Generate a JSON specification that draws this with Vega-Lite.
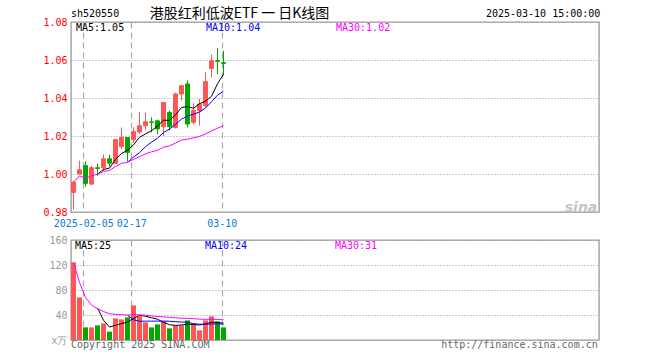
{
  "$schema": "https://vega.github.io/schema/vega-lite/v6.json",
  "padding": {"left": 42, "top": 6, "right": 0, "bottom": 0},
  "background": "white",
  "spacing": 5,
  "config": {
    "view": {"stroke": "#a0a0a0", "strokeWidth": 1.4},
    "font": "DejaVu Sans Mono",
    "scale": {"continuousPadding": 0},
    "axis": {"labelFont": "DejaVu Sans Mono", "labelFontSize": 10, "domain": false, "ticks": false, "tickSize": 0, "title": null, "labelOverlap": false}
  },
  "datasets": {
    "candles": [
      {"i": 1, "date": "2025-01-24", "open": 0.9903, "high": 0.9962, "low": 0.9812, "close": 0.9957, "vol": 124.2, "dir": "up"},
      {"i": 2, "date": "2025-01-27", "open": 1.0000, "high": 1.0070, "low": 0.9998, "close": 1.0022, "vol": 68.2, "dir": "up"},
      {"i": 3, "date": "2025-02-05", "open": 1.0044, "high": 1.0068, "low": 0.9933, "close": 0.9951, "vol": 20.2, "dir": "down"},
      {"i": 4, "date": "2025-02-06", "open": 0.9947, "high": 1.0045, "low": 0.9942, "close": 1.0033, "vol": 20.2, "dir": "up"},
      {"i": 5, "date": "2025-02-07", "open": 1.0033, "high": 1.0055, "low": 0.9990, "close": 1.0029, "vol": 23.4, "dir": "down"},
      {"i": 6, "date": "2025-02-10", "open": 1.0033, "high": 1.0103, "low": 1.0015, "close": 1.0080, "vol": 26.6, "dir": "up"},
      {"i": 7, "date": "2025-02-11", "open": 1.0080, "high": 1.0102, "low": 1.0040, "close": 1.0057, "vol": 13.3, "dir": "down"},
      {"i": 8, "date": "2025-02-12", "open": 1.0056, "high": 1.0181, "low": 1.0053, "close": 1.0181, "vol": 34.6, "dir": "up"},
      {"i": 9, "date": "2025-02-13", "open": 1.0144, "high": 1.0245, "low": 1.0131, "close": 1.0192, "vol": 33.0, "dir": "up"},
      {"i": 10, "date": "2025-02-14", "open": 1.0192, "high": 1.0192, "low": 1.0065, "close": 1.0114, "vol": 36.2, "dir": "down"},
      {"i": 11, "date": "2025-02-17", "open": 1.0181, "high": 1.0246, "low": 1.0163, "close": 1.0223, "vol": 55.4, "dir": "up"},
      {"i": 12, "date": "2025-02-18", "open": 1.0221, "high": 1.0325, "low": 1.0210, "close": 1.0254, "vol": 37.8, "dir": "up"},
      {"i": 13, "date": "2025-02-19", "open": 1.0254, "high": 1.0323, "low": 1.0232, "close": 1.0275, "vol": 28.2, "dir": "up"},
      {"i": 14, "date": "2025-02-20", "open": 1.0274, "high": 1.0298, "low": 1.0219, "close": 1.0272, "vol": 20.2, "dir": "down"},
      {"i": 15, "date": "2025-02-21", "open": 1.0280, "high": 1.0286, "low": 1.0209, "close": 1.0237, "vol": 25.0, "dir": "down"},
      {"i": 16, "date": "2025-02-24", "open": 1.0249, "high": 1.0377, "low": 1.0200, "close": 1.0377, "vol": 29.8, "dir": "up"},
      {"i": 17, "date": "2025-02-25", "open": 1.0324, "high": 1.0333, "low": 1.0228, "close": 1.0249, "vol": 18.6, "dir": "down"},
      {"i": 18, "date": "2025-02-26", "open": 1.0245, "high": 1.0428, "low": 1.0240, "close": 1.0421, "vol": 23.4, "dir": "up"},
      {"i": 19, "date": "2025-02-27", "open": 1.0421, "high": 1.0465, "low": 1.0386, "close": 1.0465, "vol": 23.4, "dir": "up"},
      {"i": 20, "date": "2025-02-28", "open": 1.0474, "high": 1.0493, "low": 1.0245, "close": 1.0263, "vol": 31.4, "dir": "down"},
      {"i": 21, "date": "2025-03-03", "open": 1.0272, "high": 1.0372, "low": 1.0260, "close": 1.0335, "vol": 26.6, "dir": "up"},
      {"i": 22, "date": "2025-03-04", "open": 1.0333, "high": 1.0395, "low": 1.0255, "close": 1.0368, "vol": 15.5, "dir": "up"},
      {"i": 23, "date": "2025-03-05", "open": 1.0360, "high": 1.0538, "low": 1.0350, "close": 1.0486, "vol": 31.4, "dir": "up"},
      {"i": 24, "date": "2025-03-06", "open": 1.0556, "high": 1.0628, "low": 1.0508, "close": 1.0596, "vol": 37.8, "dir": "up"},
      {"i": 25, "date": "2025-03-07", "open": 1.0596, "high": 1.0663, "low": 1.0526, "close": 1.0593, "vol": 29.8, "dir": "down"},
      {"i": 26, "date": "2025-03-10", "open": 1.0586, "high": 1.0649, "low": 1.0521, "close": 1.0582, "vol": 20.2, "dir": "down"}
    ],
    "pma": [
      {"i": 5, "series": "MA5", "value": 0.9999}, {"i": 6, "series": "MA5", "value": 1.0024}, {"i": 7, "series": "MA5", "value": 1.0031},
      {"i": 8, "series": "MA5", "value": 1.0077}, {"i": 9, "series": "MA5", "value": 1.0108}, {"i": 10, "series": "MA5", "value": 1.0125},
      {"i": 11, "series": "MA5", "value": 1.0153}, {"i": 12, "series": "MA5", "value": 1.0193}, {"i": 13, "series": "MA5", "value": 1.0211},
      {"i": 14, "series": "MA5", "value": 1.0228}, {"i": 15, "series": "MA5", "value": 1.0252}, {"i": 16, "series": "MA5", "value": 1.0283},
      {"i": 17, "series": "MA5", "value": 1.0282}, {"i": 18, "series": "MA5", "value": 1.0311}, {"i": 19, "series": "MA5", "value": 1.0350},
      {"i": 20, "series": "MA5", "value": 1.0355}, {"i": 21, "series": "MA5", "value": 1.0346}, {"i": 22, "series": "MA5", "value": 1.0370},
      {"i": 23, "series": "MA5", "value": 1.0383}, {"i": 24, "series": "MA5", "value": 1.0409}, {"i": 25, "series": "MA5", "value": 1.0475},
      {"i": 26, "series": "MA5", "value": 1.0525},
      {"i": 10, "series": "MA10", "value": 1.0062}, {"i": 11, "series": "MA10", "value": 1.0089}, {"i": 12, "series": "MA10", "value": 1.0112},
      {"i": 13, "series": "MA10", "value": 1.0144}, {"i": 14, "series": "MA10", "value": 1.0168}, {"i": 15, "series": "MA10", "value": 1.0188},
      {"i": 16, "series": "MA10", "value": 1.0218}, {"i": 17, "series": "MA10", "value": 1.0237}, {"i": 18, "series": "MA10", "value": 1.0261},
      {"i": 19, "series": "MA10", "value": 1.0289}, {"i": 20, "series": "MA10", "value": 1.0304}, {"i": 21, "series": "MA10", "value": 1.0315},
      {"i": 22, "series": "MA10", "value": 1.0326}, {"i": 23, "series": "MA10", "value": 1.0347}, {"i": 24, "series": "MA10", "value": 1.0380},
      {"i": 25, "series": "MA10", "value": 1.0415}, {"i": 26, "series": "MA10", "value": 1.0436},
      {"i": 1, "series": "MA30", "value": 0.9957}, {"i": 2, "series": "MA30", "value": 0.9990}, {"i": 3, "series": "MA30", "value": 0.9977},
      {"i": 4, "series": "MA30", "value": 0.9991}, {"i": 5, "series": "MA30", "value": 0.9999}, {"i": 6, "series": "MA30", "value": 1.0013},
      {"i": 7, "series": "MA30", "value": 1.0019}, {"i": 8, "series": "MA30", "value": 1.0039}, {"i": 9, "series": "MA30", "value": 1.0056},
      {"i": 10, "series": "MA30", "value": 1.0062}, {"i": 11, "series": "MA30", "value": 1.0077}, {"i": 12, "series": "MA30", "value": 1.0091},
      {"i": 13, "series": "MA30", "value": 1.0106}, {"i": 14, "series": "MA30", "value": 1.0117}, {"i": 15, "series": "MA30", "value": 1.0125},
      {"i": 16, "series": "MA30", "value": 1.0141}, {"i": 17, "series": "MA30", "value": 1.0148}, {"i": 18, "series": "MA30", "value": 1.0163},
      {"i": 19, "series": "MA30", "value": 1.0179}, {"i": 20, "series": "MA30", "value": 1.0183}, {"i": 21, "series": "MA30", "value": 1.0190},
      {"i": 22, "series": "MA30", "value": 1.0198}, {"i": 23, "series": "MA30", "value": 1.0211}, {"i": 24, "series": "MA30", "value": 1.0227},
      {"i": 25, "series": "MA30", "value": 1.0241}, {"i": 26, "series": "MA30", "value": 1.0254}
    ],
    "vma": [
      {"i": 5, "series": "MA5", "value": 51.2}, {"i": 6, "series": "MA5", "value": 31.7}, {"i": 7, "series": "MA5", "value": 20.7},
      {"i": 8, "series": "MA5", "value": 23.6}, {"i": 9, "series": "MA5", "value": 26.2}, {"i": 10, "series": "MA5", "value": 28.7},
      {"i": 11, "series": "MA5", "value": 34.5}, {"i": 12, "series": "MA5", "value": 39.4}, {"i": 13, "series": "MA5", "value": 38.1},
      {"i": 14, "series": "MA5", "value": 35.6}, {"i": 15, "series": "MA5", "value": 33.3}, {"i": 16, "series": "MA5", "value": 28.2},
      {"i": 17, "series": "MA5", "value": 24.4}, {"i": 18, "series": "MA5", "value": 23.4}, {"i": 19, "series": "MA5", "value": 24.0},
      {"i": 20, "series": "MA5", "value": 25.3}, {"i": 21, "series": "MA5", "value": 24.7}, {"i": 22, "series": "MA5", "value": 24.1},
      {"i": 23, "series": "MA5", "value": 25.7}, {"i": 24, "series": "MA5", "value": 28.5}, {"i": 25, "series": "MA5", "value": 28.2},
      {"i": 26, "series": "MA5", "value": 26.9},
      {"i": 10, "series": "MA10", "value": 39.5}, {"i": 11, "series": "MA10", "value": 32.5}, {"i": 12, "series": "MA10", "value": 30.0},
      {"i": 13, "series": "MA10", "value": 30.2}, {"i": 14, "series": "MA10", "value": 30.2}, {"i": 15, "series": "MA10", "value": 30.2},
      {"i": 16, "series": "MA10", "value": 30.3}, {"i": 17, "series": "MA10", "value": 30.0}, {"i": 18, "series": "MA10", "value": 29.2},
      {"i": 19, "series": "MA10", "value": 28.8}, {"i": 20, "series": "MA10", "value": 28.5}, {"i": 21, "series": "MA10", "value": 26.2},
      {"i": 22, "series": "MA10", "value": 25.2}, {"i": 23, "series": "MA10", "value": 25.3}, {"i": 24, "series": "MA10", "value": 25.6},
      {"i": 25, "series": "MA10", "value": 25.8}, {"i": 26, "series": "MA10", "value": 25.5},
      {"i": 1, "series": "MA30", "value": 124.0}, {"i": 2, "series": "MA30", "value": 92.0}, {"i": 3, "series": "MA30", "value": 68.0},
      {"i": 4, "series": "MA30", "value": 56.0}, {"i": 5, "series": "MA30", "value": 50.0}, {"i": 6, "series": "MA30", "value": 45.5},
      {"i": 7, "series": "MA30", "value": 42.0}, {"i": 8, "series": "MA30", "value": 41.0}, {"i": 9, "series": "MA30", "value": 40.5},
      {"i": 10, "series": "MA30", "value": 40.0}, {"i": 11, "series": "MA30", "value": 40.5}, {"i": 12, "series": "MA30", "value": 40.3},
      {"i": 13, "series": "MA30", "value": 39.7}, {"i": 14, "series": "MA30", "value": 38.5}, {"i": 15, "series": "MA30", "value": 37.5},
      {"i": 16, "series": "MA30", "value": 37.0}, {"i": 17, "series": "MA30", "value": 36.2}, {"i": 18, "series": "MA30", "value": 35.5},
      {"i": 19, "series": "MA30", "value": 34.9}, {"i": 20, "series": "MA30", "value": 34.6}, {"i": 21, "series": "MA30", "value": 34.2},
      {"i": 22, "series": "MA30", "value": 33.4}, {"i": 23, "series": "MA30", "value": 33.1}, {"i": 24, "series": "MA30", "value": 33.1},
      {"i": 25, "series": "MA30", "value": 32.8}, {"i": 26, "series": "MA30", "value": 32.4}
    ]
  },
  "resolve": {
    "scale": {"x": "independent", "y": "independent", "stroke": "independent", "fill": "independent"},
    "axis": {"x": "independent", "y": "independent"},
    "legend": {"stroke": "independent", "fill": "independent"}
  },
  "vconcat": [
    {
      "width": 528,
      "height": 190,
      "layer": [
        {
          "data": {"name": "candles"},
          "mark": {"type": "rule", "strokeWidth": 1},
          "encoding": {
            "x": {"field": "i", "type": "quantitative", "scale": {"domain": [0.583, 88.583], "nice": false, "zero": false, "padding": 0},
              "axis": {"values": [2.63, 10.63, 25.72], "labelExpr": "datum.value < 5 ? '2025-02-05' : (datum.value < 20 ? '02-17' : '03-10')", "labelColor": "#0a7fd2", "labelPadding": 6, "labelOverlap": false, "labelFlush": false, "labelBound": false, "grid": true, "gridColor": "#aaaaaa", "gridDash": [6, 4], "gridWidth": 1.2, "title": null}},
            "y": {"field": "low", "type": "quantitative", "scale": {"domain": [0.98, 1.08], "nice": false, "zero": false, "padding": 0},
              "axis": {"values": [0.98, 1.0, 1.02, 1.04, 1.06, 1.08], "format": ".2f", "labelColor": "#ff0000", "labelPadding": 4, "labelOverlap": false, "labelFlush": false, "labelBound": false, "grid": true, "gridColor": "#999999", "gridDash": [1, 2], "title": null}},
            "y2": {"field": "high"},
            "stroke": {"field": "dir", "type": "nominal", "scale": {"domain": ["up", "down", "MA5", "MA10", "MA30"], "range": ["#ff5555", "#00a800", "#000000", "#0000ff", "#ff00ff"]}}
          }
        },
        {
          "data": {"name": "candles"},
          "mark": {"type": "bar", "size": 4, "strokeWidth": 1},
          "encoding": {
            "x": {"field": "i", "type": "quantitative", "scale": {"domain": [0.583, 88.583], "nice": false, "zero": false, "padding": 0},
              "axis": {"values": [2.63, 10.63, 25.72], "labelExpr": "datum.value < 5 ? '2025-02-05' : (datum.value < 20 ? '02-17' : '03-10')", "labelColor": "#0a7fd2", "labelPadding": 6, "labelOverlap": false, "labelFlush": false, "labelBound": false, "grid": true, "gridColor": "#aaaaaa", "gridDash": [6, 4], "gridWidth": 1.2, "title": null}},
            "y": {"field": "open", "type": "quantitative", "scale": {"domain": [0.98, 1.08], "nice": false, "zero": false, "padding": 0},
              "axis": {"values": [0.98, 1.0, 1.02, 1.04, 1.06, 1.08], "format": ".2f", "labelColor": "#ff0000", "labelPadding": 4, "labelOverlap": false, "labelFlush": false, "labelBound": false, "grid": true, "gridColor": "#999999", "gridDash": [1, 2], "title": null}},
            "y2": {"field": "close"},
            "fill": {"field": "dir", "type": "nominal", "scale": {"domain": ["up", "down"], "range": ["#ff5555", "#00a800"]}, "legend": null},
            "stroke": {"field": "dir", "type": "nominal", "scale": {"domain": ["up", "down", "MA5", "MA10", "MA30"], "range": ["#ff5555", "#00a800", "#000000", "#0000ff", "#ff00ff"]}}
          }
        },
        {
          "data": {"name": "pma"},
          "mark": {"type": "line", "strokeWidth": 1},
          "encoding": {
            "x": {"field": "i", "type": "quantitative", "scale": {"domain": [0.583, 88.583], "nice": false, "zero": false, "padding": 0},
              "axis": {"values": [2.63, 10.63, 25.72], "labelExpr": "datum.value < 5 ? '2025-02-05' : (datum.value < 20 ? '02-17' : '03-10')", "labelColor": "#0a7fd2", "labelPadding": 6, "labelOverlap": false, "labelFlush": false, "labelBound": false, "grid": true, "gridColor": "#aaaaaa", "gridDash": [6, 4], "gridWidth": 1.2, "title": null}},
            "y": {"field": "value", "type": "quantitative", "scale": {"domain": [0.98, 1.08], "nice": false, "zero": false, "padding": 0},
              "axis": {"values": [0.98, 1.0, 1.02, 1.04, 1.06, 1.08], "format": ".2f", "labelColor": "#ff0000", "labelPadding": 4, "labelOverlap": false, "labelFlush": false, "labelBound": false, "grid": true, "gridColor": "#999999", "gridDash": [1, 2], "title": null}},
            "stroke": {"field": "series", "type": "nominal", "scale": {"domain": ["up", "down", "MA5", "MA10", "MA30"], "range": ["#ff5555", "#00a800", "#000000", "#0000ff", "#ff00ff"]},
              "legend": {"orient": "none", "legendX": -5, "legendY": 1, "direction": "horizontal", "title": null,
                "values": ["MA5", "MA10", "MA30"],
                "labelExpr": "datum.value == 'MA5' ? 'MA5:1.05' : (datum.value == 'MA10' ? 'MA10:1.04' : 'MA30:1.02')",
                "labelColor": {"expr": "datum.value == 'MA5' ? '#000000' : (datum.value == 'MA10' ? '#0000ff' : '#ff00ff')"},
                "labelFont": "DejaVu Sans Mono", "labelFontSize": 10, "symbolSize": 0, "symbolOpacity": 0, "symbolStrokeWidth": 0,
                "labelOffset": 0, "gridAlign": "all", "columnPadding": 65, "padding": 0}}
          }
        },
        {
          "data": {"values": [{}]},
          "mark": {"type": "text", "align": "left", "baseline": "middle", "font": "DejaVu Sans Mono", "fontSize": 10, "color": "#000000"},
          "encoding": {
            "x": {"datum": 0.583, "type": "quantitative", "scale": {"domain": [0.583, 88.583], "nice": false, "zero": false, "padding": 0},
              "axis": {"values": [2.63, 10.63, 25.72], "labelExpr": "datum.value < 5 ? '2025-02-05' : (datum.value < 20 ? '02-17' : '03-10')", "labelColor": "#0a7fd2", "labelPadding": 6, "labelOverlap": false, "labelFlush": false, "labelBound": false, "grid": true, "gridColor": "#aaaaaa", "gridDash": [6, 4], "gridWidth": 1.2, "title": null}},
            "y": {"datum": 1.0843, "type": "quantitative", "scale": {"domain": [0.98, 1.08], "nice": false, "zero": false, "padding": 0},
              "axis": {"values": [0.98, 1.0, 1.02, 1.04, 1.06, 1.08], "format": ".2f", "labelColor": "#ff0000", "labelPadding": 4, "labelOverlap": false, "labelFlush": false, "labelBound": false, "grid": true, "gridColor": "#999999", "gridDash": [1, 2], "title": null}},
            "text": {"value": "sh520550"}}
        },
        {
          "data": {"values": [{}]},
          "mark": {"type": "text", "align": "center", "baseline": "middle", "font": "Noto Sans CJK SC", "fontSize": 14, "color": "#000000"},
          "encoding": {
            "x": {"datum": 28.67, "type": "quantitative", "scale": {"domain": [0.583, 88.583], "nice": false, "zero": false, "padding": 0},
              "axis": {"values": [2.63, 10.63, 25.72], "labelExpr": "datum.value < 5 ? '2025-02-05' : (datum.value < 20 ? '02-17' : '03-10')", "labelColor": "#0a7fd2", "labelPadding": 6, "labelOverlap": false, "labelFlush": false, "labelBound": false, "grid": true, "gridColor": "#aaaaaa", "gridDash": [6, 4], "gridWidth": 1.2, "title": null}},
            "y": {"datum": 1.0843, "type": "quantitative", "scale": {"domain": [0.98, 1.08], "nice": false, "zero": false, "padding": 0},
              "axis": {"values": [0.98, 1.0, 1.02, 1.04, 1.06, 1.08], "format": ".2f", "labelColor": "#ff0000", "labelPadding": 4, "labelOverlap": false, "labelFlush": false, "labelBound": false, "grid": true, "gridColor": "#999999", "gridDash": [1, 2], "title": null}},
            "text": {"value": "港股红利低波ETF 一 日K线图"}}
        },
        {
          "data": {"values": [{}]},
          "mark": {"type": "text", "align": "right", "baseline": "middle", "font": "DejaVu Sans Mono", "fontSize": 10, "color": "#000000"},
          "encoding": {
            "x": {"datum": 88.8, "type": "quantitative", "scale": {"domain": [0.583, 88.583], "nice": false, "zero": false, "padding": 0},
              "axis": {"values": [2.63, 10.63, 25.72], "labelExpr": "datum.value < 5 ? '2025-02-05' : (datum.value < 20 ? '02-17' : '03-10')", "labelColor": "#0a7fd2", "labelPadding": 6, "labelOverlap": false, "labelFlush": false, "labelBound": false, "grid": true, "gridColor": "#aaaaaa", "gridDash": [6, 4], "gridWidth": 1.2, "title": null}},
            "y": {"datum": 1.0843, "type": "quantitative", "scale": {"domain": [0.98, 1.08], "nice": false, "zero": false, "padding": 0},
              "axis": {"values": [0.98, 1.0, 1.02, 1.04, 1.06, 1.08], "format": ".2f", "labelColor": "#ff0000", "labelPadding": 4, "labelOverlap": false, "labelFlush": false, "labelBound": false, "grid": true, "gridColor": "#999999", "gridDash": [1, 2], "title": null}},
            "text": {"value": "2025-03-10 15:00:00"}}
        },
        {
          "data": {"values": [{}]},
          "mark": {"type": "text", "align": "right", "baseline": "middle", "font": "DejaVu Sans", "fontSize": 14, "fontStyle": "italic", "fontWeight": "bold", "color": "#c4c4c4"},
          "encoding": {
            "x": {"datum": 88.3, "type": "quantitative", "scale": {"domain": [0.583, 88.583], "nice": false, "zero": false, "padding": 0},
              "axis": {"values": [2.63, 10.63, 25.72], "labelExpr": "datum.value < 5 ? '2025-02-05' : (datum.value < 20 ? '02-17' : '03-10')", "labelColor": "#0a7fd2", "labelPadding": 6, "labelOverlap": false, "labelFlush": false, "labelBound": false, "grid": true, "gridColor": "#aaaaaa", "gridDash": [6, 4], "gridWidth": 1.2, "title": null}},
            "y": {"datum": 0.9823, "type": "quantitative", "scale": {"domain": [0.98, 1.08], "nice": false, "zero": false, "padding": 0},
              "axis": {"values": [0.98, 1.0, 1.02, 1.04, 1.06, 1.08], "format": ".2f", "labelColor": "#ff0000", "labelPadding": 4, "labelOverlap": false, "labelFlush": false, "labelBound": false, "grid": true, "gridColor": "#999999", "gridDash": [1, 2], "title": null}},
            "text": {"value": "sina"}}
        }
      ]
    },
    {
      "width": 528,
      "height": 100,
      "layer": [
        {
          "data": {"name": "candles"},
          "mark": {"type": "bar", "size": 5},
          "encoding": {
            "x": {"field": "i", "type": "quantitative", "scale": {"domain": [0.583, 88.583], "nice": false, "zero": false, "padding": 0},
              "axis": {"values": [2.63, 10.63, 25.72], "labels": false, "grid": true, "gridColor": "#aaaaaa", "gridDash": [6, 4], "gridWidth": 1.2, "title": null}},
            "y": {"field": "vol", "type": "quantitative", "scale": {"domain": [0, 160], "nice": false, "zero": false, "padding": 0},
              "axis": {"values": [0, 40, 80, 120, 160], "labelExpr": "datum.value == 0 ? 'x万' : datum.label", "labelColor": "#999999", "labelPadding": 4, "labelOverlap": false, "labelFlush": false, "labelBound": false, "grid": true, "gridColor": "#999999", "gridDash": [1, 2], "title": null}},
            "fill": {"field": "dir", "type": "nominal", "scale": {"domain": ["up", "down"], "range": ["#ff5555", "#00a800"]}, "legend": null}
          }
        },
        {
          "data": {"name": "vma"},
          "mark": {"type": "line", "strokeWidth": 1},
          "encoding": {
            "x": {"field": "i", "type": "quantitative", "scale": {"domain": [0.583, 88.583], "nice": false, "zero": false, "padding": 0},
              "axis": {"values": [2.63, 10.63, 25.72], "labels": false, "grid": true, "gridColor": "#aaaaaa", "gridDash": [6, 4], "gridWidth": 1.2, "title": null}},
            "y": {"field": "value", "type": "quantitative", "scale": {"domain": [0, 160], "nice": false, "zero": false, "padding": 0},
              "axis": {"values": [0, 40, 80, 120, 160], "labelExpr": "datum.value == 0 ? 'x万' : datum.label", "labelColor": "#999999", "labelPadding": 4, "labelOverlap": false, "labelFlush": false, "labelBound": false, "grid": true, "gridColor": "#999999", "gridDash": [1, 2], "title": null}},
            "stroke": {"field": "series", "type": "nominal", "scale": {"domain": ["MA5", "MA10", "MA30"], "range": ["#000000", "#0000ff", "#ff00ff"]},
              "legend": {"orient": "none", "legendX": -6, "legendY": 1, "direction": "horizontal", "title": null,
                "labelExpr": "datum.value == 'MA5' ? 'MA5:25' : (datum.value == 'MA10' ? 'MA10:24' : 'MA30:31')",
                "labelColor": {"expr": "datum.value == 'MA5' ? '#000000' : (datum.value == 'MA10' ? '#0000ff' : '#ff00ff')"},
                "labelFont": "DejaVu Sans Mono", "labelFontSize": 10, "symbolSize": 0, "symbolOpacity": 0, "symbolStrokeWidth": 0,
                "labelOffset": 0, "gridAlign": "all", "columnPadding": 77, "padding": 0}}
          }
        },
        {
          "data": {"values": [{}]},
          "mark": {"type": "text", "align": "left", "baseline": "middle", "font": "DejaVu Sans Mono", "fontSize": 10, "color": "#666666"},
          "encoding": {
            "x": {"datum": 0.583, "type": "quantitative", "scale": {"domain": [0.583, 88.583], "nice": false, "zero": false, "padding": 0},
              "axis": {"values": [2.63, 10.63, 25.72], "labels": false, "grid": true, "gridColor": "#aaaaaa", "gridDash": [6, 4], "gridWidth": 1.2, "title": null}},
            "y": {"datum": -8.5, "type": "quantitative", "scale": {"domain": [0, 160], "nice": false, "zero": false, "padding": 0},
              "axis": {"values": [0, 40, 80, 120, 160], "labelExpr": "datum.value == 0 ? 'x万' : datum.label", "labelColor": "#999999", "labelPadding": 4, "labelOverlap": false, "labelFlush": false, "labelBound": false, "grid": true, "gridColor": "#999999", "gridDash": [1, 2], "title": null}},
            "text": {"value": "Copyright 2025 SINA.COM"}}
        },
        {
          "data": {"values": [{}]},
          "mark": {"type": "text", "align": "right", "baseline": "middle", "font": "DejaVu Sans Mono", "fontSize": 10, "color": "#666666"},
          "encoding": {
            "x": {"datum": 88.37, "type": "quantitative", "scale": {"domain": [0.583, 88.583], "nice": false, "zero": false, "padding": 0},
              "axis": {"values": [2.63, 10.63, 25.72], "labels": false, "grid": true, "gridColor": "#aaaaaa", "gridDash": [6, 4], "gridWidth": 1.2, "title": null}},
            "y": {"datum": -8.5, "type": "quantitative", "scale": {"domain": [0, 160], "nice": false, "zero": false, "padding": 0},
              "axis": {"values": [0, 40, 80, 120, 160], "labelExpr": "datum.value == 0 ? 'x万' : datum.label", "labelColor": "#999999", "labelPadding": 4, "labelOverlap": false, "labelFlush": false, "labelBound": false, "grid": true, "gridColor": "#999999", "gridDash": [1, 2], "title": null}},
            "text": {"value": "http://finance.sina.com.cn"}}
        }
      ]
    }
  ]
}
